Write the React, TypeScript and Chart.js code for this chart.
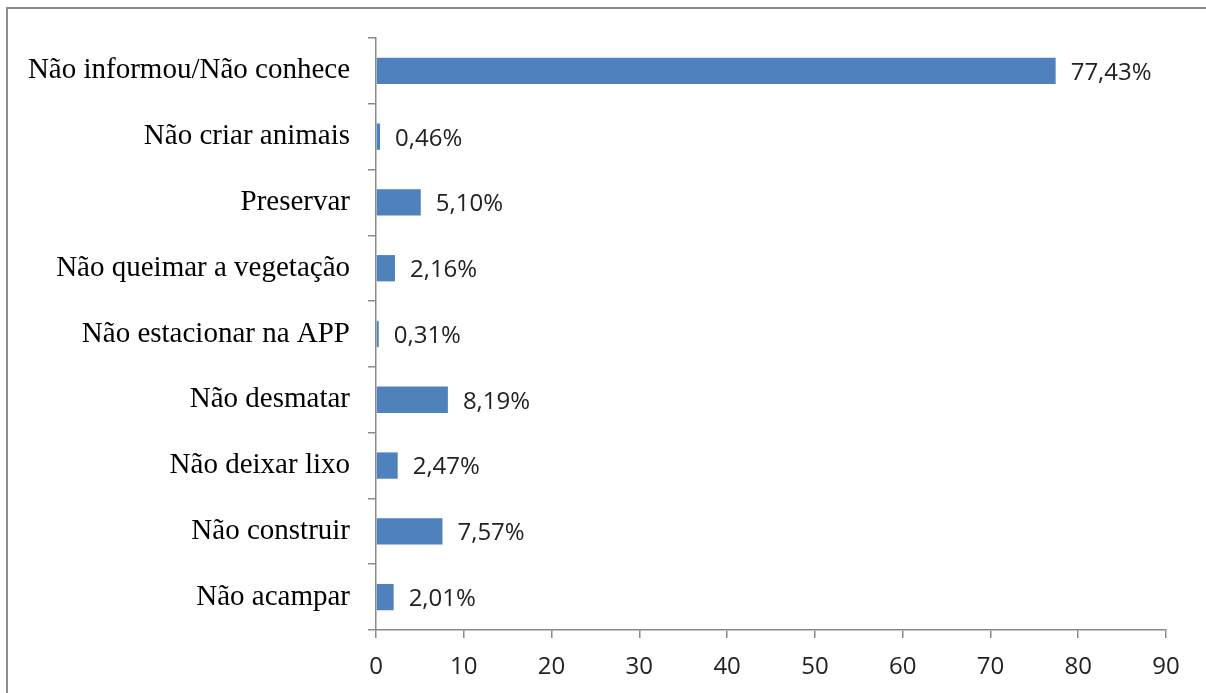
import React, { useEffect, useRef } from "react";
import { Chart, registerables } from "chart.js";

Chart.register(...registerables);

const categories = [
  "Não informou/Não conhece",
  "Não criar animais",
  "Preservar",
  "Não queimar a vegetação",
  "Não estacionar na APP",
  "Não desmatar",
  "Não deixar lixo",
  "Não construir",
  "Não acampar",
];
const values = [77.43, 0.46, 5.1, 2.16, 0.31, 8.19, 2.47, 7.57, 2.01];
const xTicks = [0, 10, 20, 30, 40, 50, 60, 70, 80, 90];

const AXIS_COLOR = "#8a8a8a";
const BAR_COLOR = "#4F81BD";

const frame = {
  id: "frame",
  beforeDraw(chart: any) {
    const ctx = chart.ctx;
    ctx.save();
    ctx.fillStyle = "#ffffff";
    ctx.fillRect(0, 0, chart.width, chart.height);
    ctx.strokeStyle = "#8c8c8c";
    ctx.lineWidth = 2;
    ctx.beginPath();
    ctx.moveTo(7, chart.height);
    ctx.lineTo(7, 8);
    ctx.lineTo(chart.width, 8);
    ctx.stroke();
    ctx.restore();
  },
};

const valueLabels = {
  id: "valueLabels",
  afterDatasetsDraw(chart: any) {
    const ctx = chart.ctx;
    const meta = chart.getDatasetMeta(0);
    ctx.save();
    ctx.font = "24px 'Open Sans'";
    ctx.fillStyle = "#222";
    ctx.textAlign = "left";
    ctx.textBaseline = "middle";
    meta.data.forEach((el: any, i: number) => {
      const txt = values[i].toFixed(2).replace(".", ",") + "%";
      ctx.fillText(txt, el.x + 15, el.y + 2);
    });
    ctx.restore();
  },
};

export default function App() {
  const ref = useRef<HTMLCanvasElement>(null);
  useEffect(() => {
    document.body.style.margin = "0";
    const chart = new Chart(ref.current!, {
      type: "bar",
      data: {
        labels: categories,
        datasets: [
          {
            data: values,
            backgroundColor: BAR_COLOR,
            borderWidth: 0,
            barPercentage: 0.4,
            categoryPercentage: 1,
          },
        ],
      },
      options: {
        indexAxis: "y",
        responsive: false,
        animation: false,
        layout: { padding: { top: 38, right: 40, bottom: 0, left: 0 } },
        plugins: { legend: { display: false }, tooltip: { enabled: false } },
        scales: {
          x: {
            min: 0,
            max: 90,
            afterFit: (s: any) => {
              s.height = 63;
            },
            afterBuildTicks: (s: any) => {
              s.ticks = xTicks.map((v) => ({ value: v }));
            },
            grid: {
              drawOnChartArea: false,
              drawTicks: true,
              tickLength: 8,
              color: AXIS_COLOR,
              lineWidth: 1.5,
            },
            border: { color: AXIS_COLOR, width: 1.5 },
            ticks: {
              padding: 15,
              color: "#222",
              font: { family: "'Open Sans'", size: 24 },
              maxRotation: 0,
            },
          },
          y: {
            afterFit: (s: any) => {
              s.width = 376;
            },
            grid: {
              offset: true,
              drawOnChartArea: false,
              drawTicks: true,
              tickLength: 8,
              color: AXIS_COLOR,
              lineWidth: 1.5,
            },
            border: { color: AXIS_COLOR, width: 1.5 },
            ticks: {
              padding: 18,
              color: "#000",
              font: { family: "'Liberation Serif'", size: 29 },
            },
          },
        },
      },
      plugins: [frame, valueLabels],
    });
    return () => chart.destroy();
  }, []);

  return (
    <div style={{ position: "absolute", left: 0, top: 0, width: 1206, height: 693, overflow: "hidden", background: "#fff" }}>
      <canvas ref={ref} width={1206} height={693} style={{ position: "absolute", left: 0, top: 0, display: "block" }} />
    </div>
  );
}
